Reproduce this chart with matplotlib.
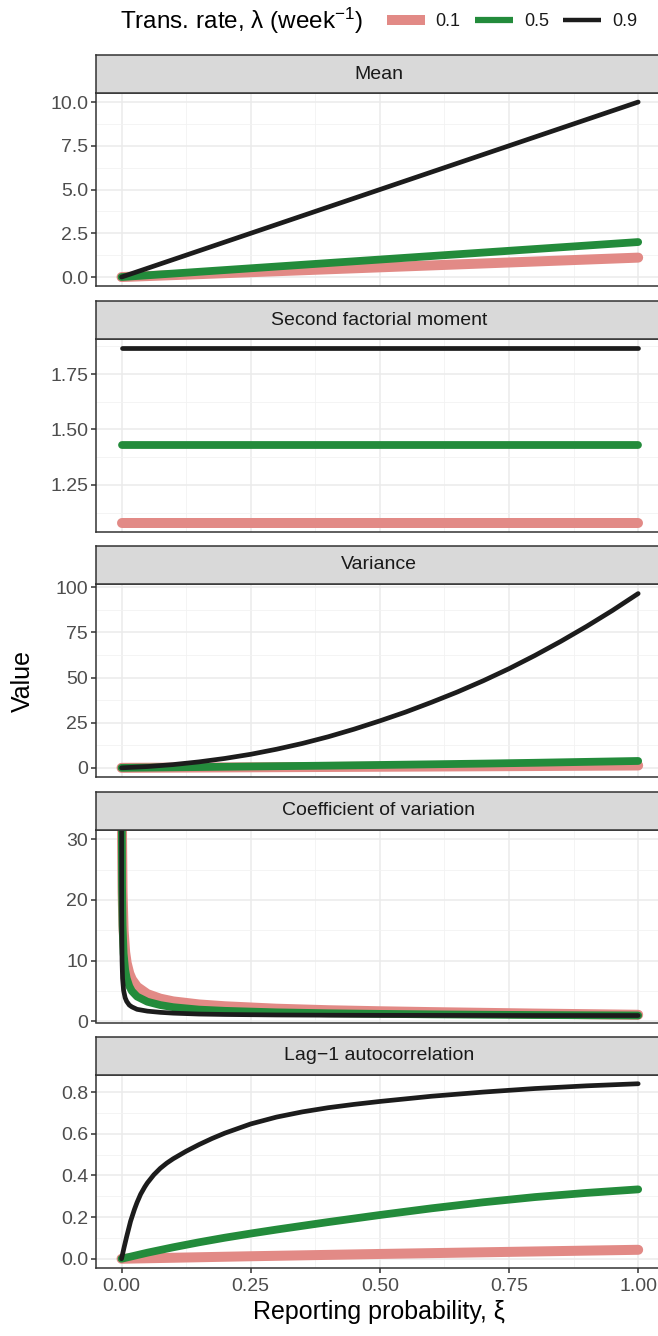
import numpy as np
import matplotlib.pyplot as plt
from matplotlib.lines import Line2D

plt.rcParams['font.family'] = ['Liberation Sans', 'DejaVu Sans']
plt.rcParams['mathtext.fontset'] = 'custom'
plt.rcParams['mathtext.rm'] = 'Liberation Sans'
plt.rcParams['mathtext.it'] = 'Liberation Sans:italic'

# ---- data ----
lam_labels = ['0.1', '0.5', '0.9']
colors = ['#E28A86', '#238B3B', '#1C1C1C']
widths = [7.2, 5.6, 3.4]

xi_line = [0.0, 1.0]
mean_01 = [0.0, 1.11]
mean_05 = [0.0, 2.0]
mean_09 = [0.0, 10.0]

sfm_01 = [1.078, 1.078]
sfm_05 = [1.428, 1.428]
sfm_09 = [1.867, 1.867]

xi_var = [0, 0.1, 0.2, 0.3, 0.4, 0.5, 0.6, 0.7, 0.8, 0.9, 1.0]
var_01 = [0, 0.12, 0.24, 0.36, 0.48, 0.6, 0.72, 0.86, 1.0, 1.15, 1.3]
var_05 = [0, 0.28, 0.58, 0.9, 1.22, 1.58, 1.95, 2.35, 2.8, 3.3, 3.8]
xi_var_09 = [0, 0.05, 0.1, 0.15, 0.2, 0.25, 0.3, 0.35, 0.4, 0.45, 0.5, 0.55,
             0.6, 0.65, 0.7, 0.75, 0.8, 0.85, 0.9, 0.95, 1.0]
var_09 = [0, 0.7, 1.8, 3.3, 5.2, 7.5, 10.3, 13.5, 17.2, 21.4, 26.0, 30.9,
          36.3, 42.0, 48.2, 54.9, 62.2, 70.0, 78.3, 87.1, 96.5]

xi_cv = [0.0001, 0.0003, 0.001, 0.002, 0.004, 0.007, 0.01, 0.015, 0.02, 0.03,
         0.05, 0.075, 0.1, 0.15, 0.2, 0.3, 0.4, 0.5, 0.6, 0.7, 0.8, 0.9, 1.0]
cv_01 = [95, 55, 30.0, 21.2, 15.0, 11.4, 9.6, 7.9, 6.9, 5.7, 4.5, 3.75, 3.3,
         2.8, 2.5, 2.1, 1.85, 1.68, 1.54, 1.42, 1.3, 1.2, 1.1]
cv_05 = [70, 40.8, 22.4, 15.8, 11.2, 8.5, 7.1, 5.8, 5.0, 4.1, 3.25, 2.7, 2.35,
         1.95, 1.75, 1.5, 1.35, 1.25, 1.17, 1.11, 1.06, 1.02, 0.99]
cv_09 = [31.6, 18.3, 10.0, 7.1, 5.1, 3.9, 3.3, 2.7, 2.4, 2.0, 1.7, 1.5, 1.37,
         1.22, 1.15, 1.07, 1.03, 1.01, 1.0, 0.99, 0.98, 0.98, 0.98]

xi_ac_09 = [0, 0.005, 0.01, 0.0175, 0.025, 0.03, 0.037, 0.045, 0.05, 0.0625,
            0.075, 0.0875, 0.1, 0.125, 0.15, 0.175, 0.2, 0.25, 0.3, 0.35, 0.4,
            0.45, 0.5, 0.6, 0.7, 0.8, 0.9, 1.0]
ac_09 = [0, 0.055, 0.107, 0.18, 0.237, 0.27, 0.31, 0.345, 0.364, 0.403,
         0.434, 0.459, 0.48, 0.516, 0.548, 0.577, 0.603, 0.647, 0.68, 0.705,
         0.725, 0.741, 0.755, 0.78, 0.80, 0.817, 0.83, 0.84]
xi_ac_05 = [0, 0.05, 0.1, 0.15, 0.2, 0.25, 0.3, 0.35, 0.4, 0.45, 0.5, 0.6,
            0.7, 0.8, 0.9, 1.0]
ac_05 = [0, 0.029, 0.055, 0.079, 0.101, 0.121, 0.14, 0.158, 0.176, 0.193,
         0.21, 0.242, 0.271, 0.296, 0.316, 0.333]
xi_ac_01 = [0, 0.25, 0.5, 0.75, 1.0]
ac_01 = [0, 0.012, 0.023, 0.033, 0.043]

panels = [
    ('Mean', [(xi_line, mean_01), (xi_line, mean_05), (xi_line, mean_09)],
     (-0.5, 10.5), [0, 2.5, 5, 7.5, 10], ['0.0', '2.5', '5.0', '7.5', '10.0']),
    ('Second factorial moment', [(xi_line, sfm_01), (xi_line, sfm_05), (xi_line, sfm_09)],
     (1.0385, 1.9065), [1.25, 1.5, 1.75], ['1.25', '1.50', '1.75']),
    ('Variance', [(xi_var, var_01), (xi_var, var_05), (xi_var_09, var_09)],
     (-4.8, 101.8), [0, 25, 50, 75, 100], ['0', '25', '50', '75', '100']),
    ('Coefficient of variation', [(xi_cv, cv_01), (xi_cv, cv_05), (xi_cv, cv_09)],
     (-0.17, 31.5), [0, 10, 20, 30], ['0', '10', '20', '30']),
    ('Lag\u22121 autocorrelation', [(xi_ac_01, ac_01), (xi_ac_05, ac_05), (xi_ac_09, ac_09)],
     (-0.042, 0.882), [0, 0.2, 0.4, 0.6, 0.8], ['0.0', '0.2', '0.4', '0.6', '0.8']),
]

W, H = 658, 1336
fig = plt.figure(figsize=(W / 100, H / 100), dpi=100)

left, right = 95.7, 664
tops = [93.3, 339.3, 584.0, 830.0, 1075.0]
ph = 192.5
sh = 38.5
edge = '#333333'

def px_rect(top, height):
    return [left / W, 1 - (top + height) / H, (right - left) / W, height / H]

for i, (title, series, ylim, yt, ytl) in enumerate(panels):
    ax = fig.add_axes(px_rect(tops[i], ph))
    for (xs, y), c, lw in zip(series, colors, widths):
        ax.plot(xs, y, color=c, lw=lw, solid_capstyle='round', solid_joinstyle='round')
    ax.set_yticks(yt)
    ax.set_yticklabels(ytl)
    ax.set_xticks([0, 0.25, 0.5, 0.75, 1.0])
    ax.set_xticks([0.125, 0.375, 0.625, 0.875], minor=True)
    step = yt[1] - yt[0]
    ymin_ticks = [yt[0] - step / 2] + [v + step / 2 for v in yt]
    ax.set_yticks(ymin_ticks, minor=True)
    ax.set_xlim(-0.05, 1.05)
    ax.set_ylim(*ylim)
    ax.grid(which='major', color='#EBEBEB', lw=1.1)
    ax.grid(which='minor', color='#F2F2F2', lw=0.6)
    ax.set_axisbelow(True)
    for s in ax.spines.values():
        s.set_color(edge)
        s.set_linewidth(1.1)
    ax.tick_params(axis='y', which='major', length=3.5, width=1.1, color=edge,
                   labelsize=14, labelcolor='#4D4D4D', pad=2)
    ax.tick_params(which='minor', length=0)
    if i == len(panels) - 1:
        ax.set_xticklabels(['0.00', '0.25', '0.50', '0.75', '1.00'])
        ax.tick_params(axis='x', which='major', length=3.5, width=1.1, color=edge,
                       labelsize=14, labelcolor='#4D4D4D', pad=4)
    else:
        ax.tick_params(axis='x', which='major', length=0, labelbottom=False)

    sax = fig.add_axes(px_rect(tops[i] - sh, sh))
    sax.set_facecolor('#D9D9D9')
    sax.set_xticks([])
    sax.set_yticks([])
    for s in sax.spines.values():
        s.set_color(edge)
        s.set_linewidth(1.1)
    sax.text((379 - left) / (right - left), 0.5, title, ha='center', va='center',
             fontsize=14, color='#1A1A1A', transform=sax.transAxes)

fig.text(379 / W, 1 - 1312 / H, 'Reporting probability, \u03be', ha='center',
         va='center', fontsize=18)
fig.text(23 / W, 1 - 681 / H, 'Value', ha='center', va='center', rotation=90,
         fontsize=18)

# legend
fig.text(120 / W, 1 - 21 / H, 'Trans. rate, \u03bb (week$^{-1}$)', ha='left',
         va='center', fontsize=17.5)
handles = [Line2D([], [], color=c, lw=lw, solid_capstyle='butt')
           for c, lw in zip(colors, [7.2, 4.5, 3.2])]
fig.legend(handles, lam_labels, ncol=3, loc='center',
           bbox_to_anchor=(512 / W, 1 - 21.7 / H), frameon=False, fontsize=13,
           handlelength=2.1, handletextpad=0.6, columnspacing=0.8,
           borderpad=0.2, labelcolor='#1A1A1A')

fig.savefig('out.png', dpi=100)
